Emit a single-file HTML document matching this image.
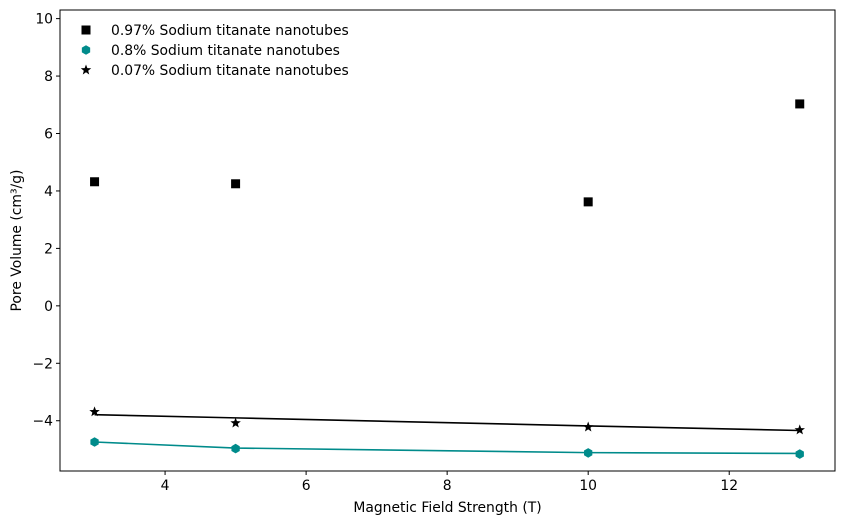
<!DOCTYPE html>
<html><head><meta charset="utf-8"><style>
body{margin:0;background:#fff;font-family:"Liberation Sans","DejaVu Sans",sans-serif}
svg text{font-family:"DejaVu Sans","Liberation Sans",sans-serif;font-size:13.9px;fill:#000}
</style></head><body>
<svg id="chart" width="844" height="525"></svg>
<script>
const xValues=[3,5,10,13];
const seriesSquare=[4.32,4.25,3.62,7.03];
const seriesHex=[-4.74,-4.97,-5.12,-5.16];
const fitHex=[-4.74,-4.95,-5.11,-5.14];
const seriesStar=[-3.69,-4.08,-4.22,-4.32];
const fitStar=[-3.79,-3.90,-4.18,-4.34];
const xTicks=[4,6,8,10,12];
const yTicks=[-4,-2,0,2,4,6,8,10];
const legendLabels=["0.97% Sodium titanate nanotubes","0.8% Sodium titanate nanotubes","0.07% Sodium titanate nanotubes"];
const L=60,R=835,T=10,B=471,xMin=2.51,xMax=13.5,yMin=-5.75,yMax=10.3;
const sx=v=>L+(v-xMin)/(xMax-xMin)*(R-L);
const sy=v=>B-(v-yMin)/(yMax-yMin)*(B-T);
const svg=document.getElementById('chart');
const NS='http://www.w3.org/2000/svg';
function mk(tag,attrs,parent){const e=document.createElementNS(NS,tag);for(const k in attrs)e.setAttribute(k,attrs[k]);(parent||svg).appendChild(e);return e;}
let e;
xTicks.forEach(t=>{
 e=mk('line',{x1:sx(t),x2:sx(t),y1:B,y2:B+4,stroke:'#000'});
 
 
 e=mk('text',{x:sx(t),y:B+19,'text-anchor':'middle'});e.textContent=t;
 
 
});
yTicks.forEach(t=>{
 e=mk('line',{x1:L-4,x2:L,y1:sy(t),y2:sy(t),stroke:'#000'});
 
 
 e=mk('text',{x:L-7,y:sy(t)+5,'text-anchor':'end'});e.textContent=(t<0?'\u2212'+(-t):t);
 
 
});
function line(vals,color,name){
 e=mk('polyline',{points:xValues.map((x,i)=>sx(x)+','+sy(vals[i])).join(' '),fill:'none',stroke:color,'stroke-width':1.6});
 
 
}
line(fitStar,'#000','fit-line-0-07');
line(fitHex,'#008b8b','fit-line-0-8');
function sq(x,y,g){return mk('rect',{x:x-4.5,y:y-4.5,width:9,height:9,fill:'#000'},g);}
function hex(x,y,g,c){let p=[];for(let k=0;k<6;k++){const a=Math.PI/3*k+Math.PI/6;p.push((x+4.8*Math.cos(a))+','+(y+4.8*Math.sin(a)));}return mk('polygon',{points:p.join(' '),fill:c||'#008b8b'},g);}
function star(x,y,g){let p=[];for(let k=0;k<10;k++){const r=k%2?2.3:5.5,a=-Math.PI/2+Math.PI/5*k;p.push((x+r*Math.cos(a))+','+(y+r*Math.sin(a)));}return mk('polygon',{points:p.join(' '),fill:'#000'},g);}
xValues.forEach((x,i)=>{
 e=sq(sx(x),sy(seriesSquare[i]));
 e=hex(sx(x),sy(seriesHex[i]));
 e=star(sx(x),sy(seriesStar[i]));
});
e=mk('rect',{x:L,y:T,width:R-L,height:B-T,fill:'none',stroke:'#000','stroke-width':1});


e=mk('text',{x:(L+R)/2,y:512,'text-anchor':'middle'});e.textContent='Magnetic Field Strength (T)';


e=mk('text',{x:0,y:0,'text-anchor':'middle',transform:'translate(21,'+((T+B)/2)+') rotate(-90)'});e.textContent='Pore Volume (cm³/g)';


const lg=mk('g',{});


const markers=[sq,hex,star];
legendLabels.forEach((lab,i)=>{
 const y=30+i*20;
 markers[i](86,y,lg);
 const t=mk('text',{x:111,y:y+5},lg);t.textContent=lab;
 
 
});
</script>
</body></html>
